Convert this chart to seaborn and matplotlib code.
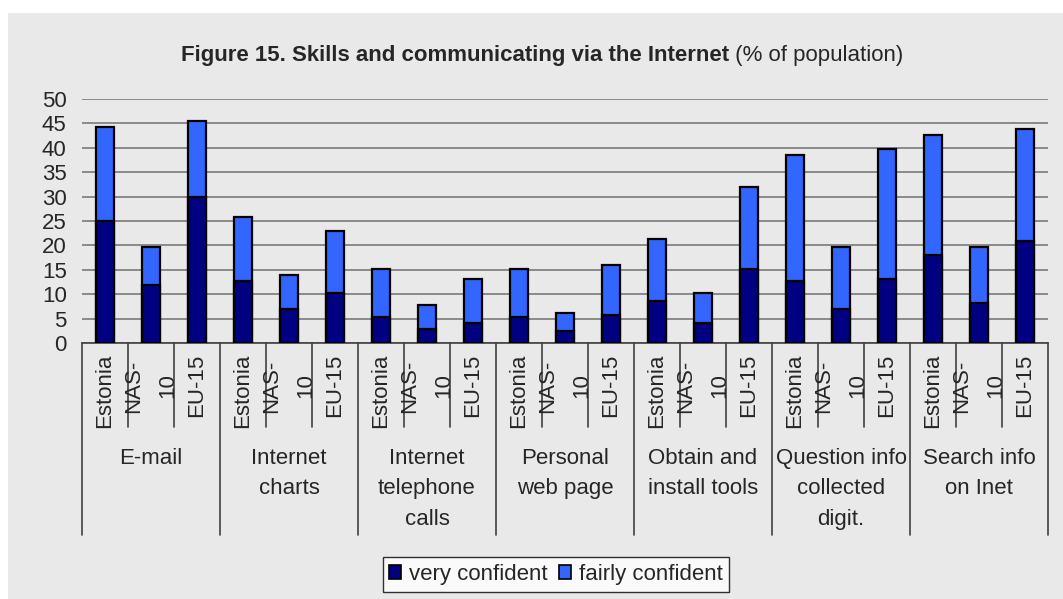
import matplotlib
matplotlib.use("Agg")
import matplotlib.pyplot as plt
import numpy as np
import pandas as pd
import seaborn as sns
from matplotlib.transforms import blended_transform_factory
from matplotlib.patches import Rectangle, Patch

# ---- data -------------------------------------------------------------
activities = [
    "E-mail",
    "Internet\ncharts",
    "Internet\ntelephone\ncalls",
    "Personal\nweb page",
    "Obtain and\ninstall tools",
    "Question info\ncollected\ndigit.",
    "Search info\non Inet",
]
regions = ["Estonia", "NAS-\n10", "EU-15"]

very_confident = [25.0, 11.9, 30.0,
                  12.7, 6.9, 10.3,
                  5.3, 2.8, 4.0,
                  5.3, 2.5, 5.7,
                  8.6, 4.0, 15.1,
                  12.7, 6.9, 13.1,
                  18.1, 8.2, 20.9]
fairly_confident = [19.3, 7.8, 15.5,
                    13.1, 7.0, 12.6,
                    9.8, 4.9, 9.1,
                    9.8, 3.6, 10.3,
                    12.7, 6.2, 16.9,
                    25.8, 12.8, 26.7,
                    24.5, 11.5, 23.0]
y_ticks = [0, 5, 10, 15, 20, 25, 30, 35, 40, 45, 50]

# ---- style ------------------------------------------------------------
sns.set_style("white")
plt.rcParams["font.family"] = ["Liberation Sans", "DejaVu Sans"]
FS = 16
BG = "#E9E9E9"
DARK = "#000080"
LIGHT = "#3366FF"

W, H = 1063, 599
fig = plt.figure(figsize=(W / 100, H / 100), dpi=100)
fig.patch.set_facecolor("white")
fig.patches.append(Rectangle((8 / W, 0), 1 - 8 / W, 1 - 13 / H,
                             transform=fig.transFigure, facecolor=BG,
                             edgecolor="none", zorder=-10))

ax = fig.add_axes([82 / W, 1 - 343 / H, (1048 - 82) / W, (343 - 99) / H])
ax.set_facecolor(BG)

rows = []
for g, act in enumerate(activities):
    for r, reg in enumerate(regions):
        k = g * 3 + r
        rows.append({"slot": f"{k:02d}", "activity": act, "region": reg,
                     "very": very_confident[k],
                     "total": very_confident[k] + fairly_confident[k]})
df = pd.DataFrame(rows)

sns.barplot(data=df, x="slot", y="total", color=LIGHT, saturation=1,
            width=0.4, edgecolor="black", linewidth=1.6, ax=ax, zorder=3)
sns.barplot(data=df, x="slot", y="very", color=DARK, saturation=1,
            width=0.4, edgecolor="black", linewidth=1.6, ax=ax, zorder=4)

n = len(df)
ax.set_xlim(-0.5, n - 0.5)
ax.set_ylim(0, 50)
ax.set_yticks(y_ticks)
ax.set_yticklabels([str(v) for v in y_ticks], fontsize=FS)
ax.tick_params(axis="y", length=0, pad=11)
ax.set_xticks([])
ax.set_xlabel("")
ax.set_ylabel("")
ax.yaxis.grid(True, color="#7A7A7A", linewidth=1.2, zorder=0)
ax.set_axisbelow(True)
for s in ["left", "right", "top"]:
    ax.spines[s].set_visible(False)
ax.spines["bottom"].set_color("#404040")
ax.spines["bottom"].set_linewidth(1.2)

# ---- two-level category axis -----------------------------------------
tr = blended_transform_factory(ax.transData, fig.transFigure)
y_axis = 1 - 343 / H
y_short = 1 - 427 / H
y_long = 1 - 535 / H
for b in range(n + 1):
    xb = b - 0.5
    y_end = y_long if b % 3 == 0 else y_short
    ax.plot([xb, xb], [y_axis, y_end], transform=tr, color="#404040",
            linewidth=1.2, clip_on=False)

for k, row in df.iterrows():
    if "\n" in row["region"]:
        ax.text(k, 1 - 386 / H, row["region"], transform=tr, rotation=90,
                ha="center", va="center", multialignment="center",
                fontsize=FS, linespacing=1.8)
    else:
        ax.text(k, 1 - 354 / H, row["region"], transform=tr, rotation=90,
                ha="center", va="top", fontsize=FS)

for g, act in enumerate(activities):
    ax.text(g * 3 + 1, 1 - 448 / H, act, transform=tr, ha="center",
            va="top", multialignment="center", fontsize=FS, linespacing=1.58)

# ---- legend -----------------------------------------------------------
handles = [Patch(facecolor=DARK, edgecolor="black", linewidth=1.2),
           Patch(facecolor=LIGHT, edgecolor="black", linewidth=1.2)]
leg = fig.legend(handles, ["very confident", "fairly confident"], ncol=2,
                 loc="center", bbox_to_anchor=(556 / W, 1 - 574.5 / H),
                 fontsize=FS, frameon=True, fancybox=False,
                 handlelength=0.55, handleheight=0.55, handletextpad=0.35,
                 columnspacing=0.5, borderpad=0.3, borderaxespad=0)
leg.get_frame().set_edgecolor("black")
leg.get_frame().set_linewidth(1.0)
leg.get_frame().set_facecolor("white")

# ---- title: bold lead followed by regular unit note ---------------------
t_bold = fig.text(0, 1 - 56 / H, "Figure 15. Skills and communicating via the Internet",
                  fontsize=FS, fontweight="bold", va="center", ha="left")
t_norm = fig.text(0, 1 - 56 / H, " (% of population)", fontsize=FS,
                  va="center", ha="left")
fig.canvas.draw()
r = fig.canvas.get_renderer()
wb = t_bold.get_window_extent(r).width
wn = t_norm.get_window_extent(r).width
x0 = 542.5 - (wb + wn) / 2
t_bold.set_x(x0 / W)
t_norm.set_x((x0 + wb) / W)

fig.savefig("out.png", dpi=100, facecolor=fig.get_facecolor())
